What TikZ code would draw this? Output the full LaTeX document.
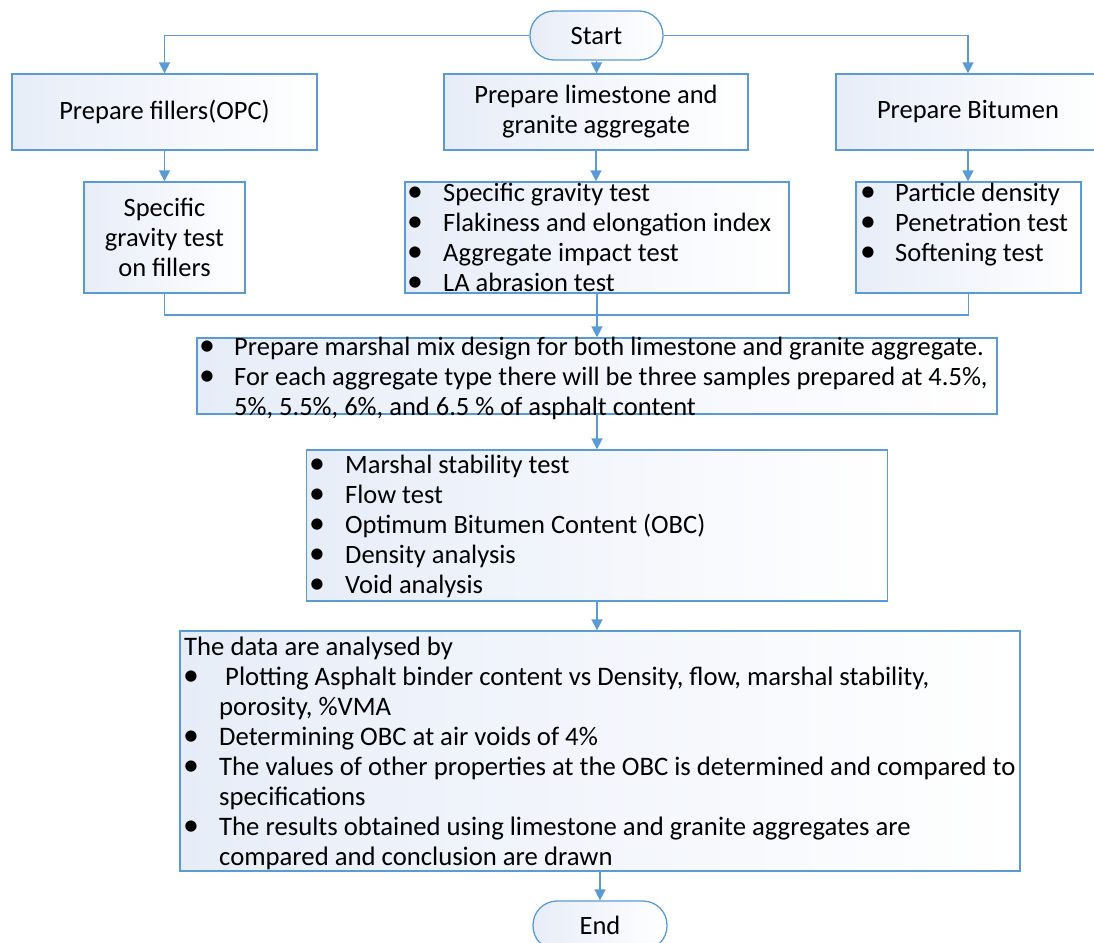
\documentclass[tikz,border=0pt]{standalone}
\usepackage{fontspec}
\setmainfont{Carlito}
\usetikzlibrary{arrows.meta}
\definecolor{edge}{RGB}{91,155,213}
\definecolor{fillA}{RGB}{231,237,248}
\begin{document}
\begin{tikzpicture}[x=1pt,y=-1pt,
  every node/.style={font=\fontsize{26.5}{30}\selectfont},
  box/.style={draw=edge,line width=1.3pt,left color=fillA,right color=white,inner sep=0pt,align=center},
  term/.style={box,rounded corners=24pt},
  conn/.style={draw=edge,line width=1.6pt},
  arr/.style={conn,-{Triangle[width=11pt,length=11pt]}},
  txt/.style={inner sep=0pt,anchor=base west},
  wide/.style={txt,font=\fontsize{26.7}{30}\selectfont},
  dot/.style={inner sep=0pt,anchor=base}]
\useasboundingbox (0,0) rectangle (1094,942);
\clip (0,0) rectangle (1094,942);

\node[term,minimum width=133pt,minimum height=49pt] (start) at (596.5,35.5) {Start};
\node[box,minimum width=305pt,minimum height=76pt] (a1) at (164.5,112) {Prepare fillers(OPC)};
\node[box,minimum width=304pt,minimum height=76pt] (b1) at (596,112) {Prepare limestone and\\granite aggregate};
\node[box,minimum width=264pt,minimum height=76pt] (c1) at (968,112) {Prepare Bitumen};

\node[box,minimum width=161pt,minimum height=111pt] (a2) at (164.5,237.5) {Specific\\gravity test\\on fillers};
\node[box,minimum width=384pt,minimum height=111pt] (b2) at (597,237.5) {};
\node[box,minimum width=225pt,minimum height=111pt] (c2) at (968.5,237.5) {};
\node[box,minimum width=800pt,minimum height=76pt] (mix) at (597,376) {};
\node[box,minimum width=581pt,minimum height=151pt] (tests) at (597,525.5) {};
\node[box,minimum width=840pt,minimum height=240pt] (ana) at (600,751) {};
\node[term,minimum width=134pt,minimum height=49pt] (end) at (600,925.5) {End};

% list texts
\newcommand\bdot{\scalebox{1.2}{\textbullet}}
\node[dot] (b2d1) at (415,201) {\bdot}; \node[txt] (b2t1) at (443,201) {Specific gravity test};
\node[dot] (b2d2) at (415,231) {\bdot}; \node[txt] (b2t2) at (443,231) {Flakiness and elongation index};
\node[dot] (b2d3) at (415,261) {\bdot}; \node[txt] (b2t3) at (443,261) {Aggregate impact test};
\node[dot] (b2d4) at (415,291) {\bdot}; \node[txt] (b2t4) at (443,291) {LA abrasion test};

\node[dot] (c2d1) at (868,201) {\bdot}; \node[txt] (c2t1) at (895,201) {Particle density};
\node[dot] (c2d2) at (868,231) {\bdot}; \node[txt] (c2t2) at (895,231) {Penetration test};
\node[dot] (c2d3) at (868,261) {\bdot}; \node[txt] (c2t3) at (895,261) {Softening test};

\node[dot] (md1) at (207,355) {\bdot}; \node[txt] (mt1) at (234,355) {Prepare marshal mix design for both limestone and granite aggregate.};
\node[dot] (md2) at (207,385) {\bdot}; \node[txt] (mt2) at (234,385) {For each aggregate type there will be three samples prepared at 4.5\%,};
\node[txt] (mt3) at (234,415) {5\%, 5.5\%, 6\%, and 6.5 \% of asphalt content};

\node[dot] (td1) at (317,473) {\bdot}; \node[txt] (tt1) at (345,473) {Marshal stability test};
\node[dot] (td2) at (317,503) {\bdot}; \node[txt] (tt2) at (345,503) {Flow test};
\node[dot] (td3) at (317,533) {\bdot}; \node[txt] (tt3) at (345,533) {Optimum Bitumen Content (OBC)};
\node[dot] (td4) at (317,563) {\bdot}; \node[txt] (tt4) at (345,563) {Density analysis};
\node[dot] (td5) at (317,593) {\bdot}; \node[txt] (tt5) at (345,593) {Void analysis};

\node[wide] (at0) at (184,655) {The data are analysed by};
\node[dot] (ad1) at (191,685) {\bdot}; \node[wide] (at1) at (225,685) {Plotting Asphalt binder content vs Density, flow, marshal stability,};
\node[wide] (at1b) at (219,715) {porosity, \%VMA};
\node[dot] (ad2) at (191,745) {\bdot}; \node[wide] (at2) at (219,745) {Determining OBC at air voids of 4\%};
\node[dot] (ad3) at (191,775) {\bdot}; \node[wide] (at3) at (219,775) {The values of other properties at the OBC is determined and compared to};
\node[wide] (at3b) at (219,805) {specifications};
\node[dot] (ad4) at (191,835) {\bdot}; \node[wide] (at4) at (219,835) {The results obtained using limestone and granite aggregates are};
\node[wide] (at4b) at (219,865) {compared and conclusion are drawn};

% connectors
\draw[arr] (start.west) -| (a1.north);
\draw[arr] (start.east) -| (c1.north);
\draw[arr] (start.south) -- (start.south |- b1.north);
\draw[arr] (a1.south) -- (a2.north);
\draw[arr] (b1.south) -- (b1.south |- b2.north);
\draw[arr] (c1.south) -- (c1.south |- c2.north);
\coordinate (merge) at (597,315);
\draw[conn] (a2.south) |- (merge);
\draw[conn] (c2.south) |- (merge);
\draw[conn] (b2.south) -- (merge);
\draw[arr] (merge) -- (mix.north);
\draw[arr] (mix.south) -- (mix.south |- tests.north);
\draw[arr] (tests.south) -- (tests.south |- ana.north);
\draw[arr] (ana.south) -- (end.north);
\end{tikzpicture}
\end{document}
